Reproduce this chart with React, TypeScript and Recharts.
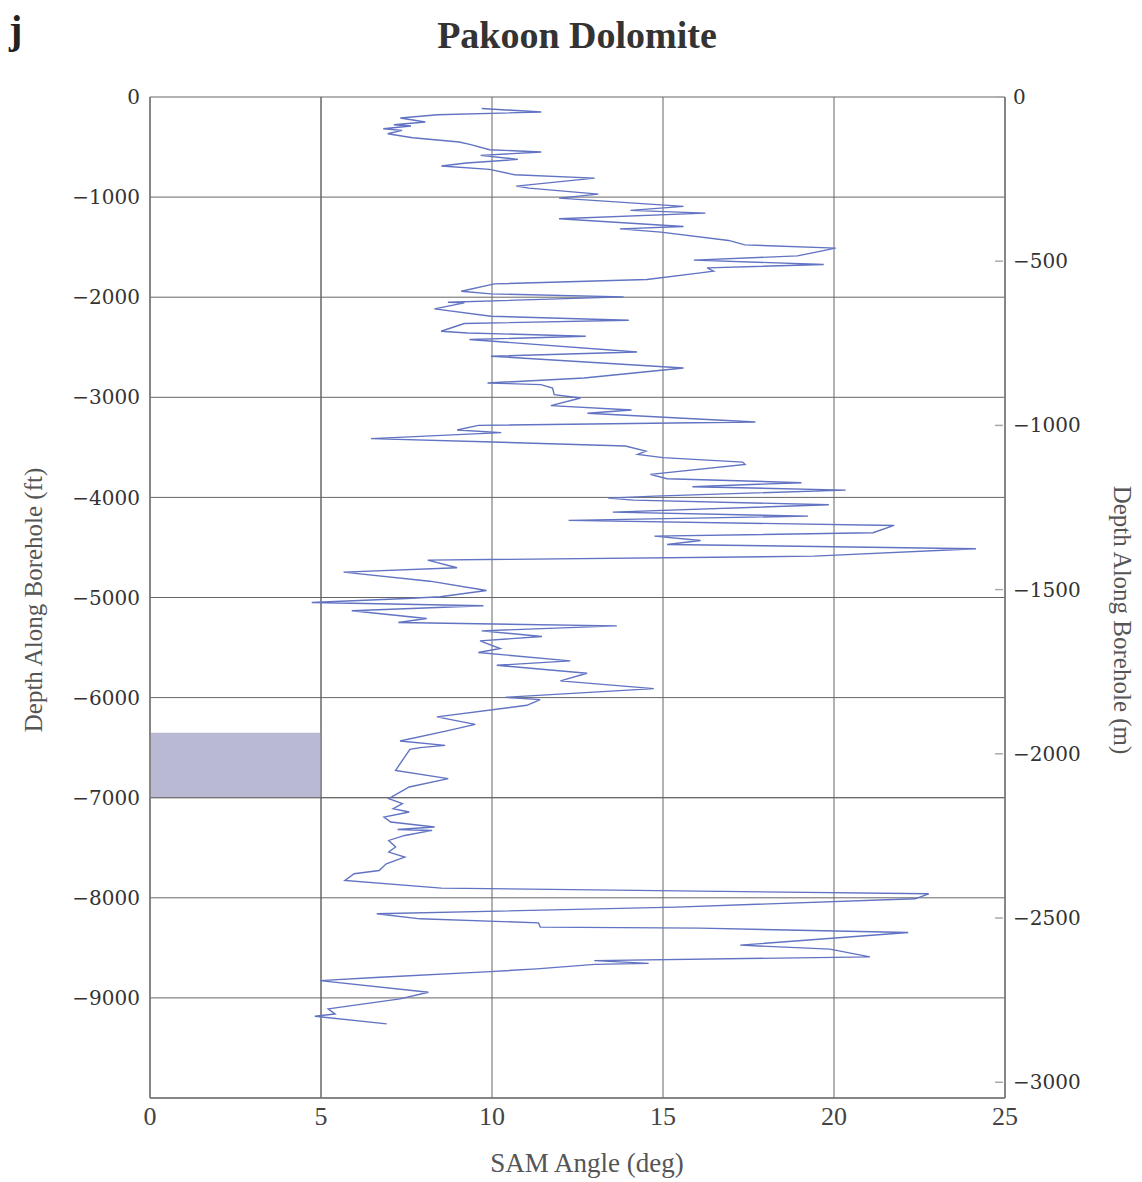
import React from 'react';
import { ScatterChart, Scatter, XAxis, YAxis, CartesianGrid, ReferenceArea, ReferenceLine } from 'recharts';

// SAM angle (deg), top of hole to bottom
const samAngle = [
  9.7, 11.44, 8.41, 7.32, 8.05, 7.13, 7.63, 6.82, 7.37, 6.95, 7.68, 9.04, 9.35, 9.93, 11.44, 9.67, 10.76, 9.25, 8.52, 9.93,
  10.66, 13.0, 10.71, 11.08, 13.11, 11.96, 15.6, 14.05, 16.24, 11.96, 15.6, 13.74, 14.94, 16.92, 17.39, 20.05,
  18.93, 15.9, 19.7, 16.29, 16.48, 16.09, 14.53, 10.07, 9.1, 9.97, 13.85, 8.71, 9.19, 8.32, 9.97, 14.0, 9.19, 8.51, 9.29,
  12.74, 9.34, 14.24, 9.97, 15.6, 12.69, 9.87, 11.43, 11.77, 11.82, 12.59, 11.72, 14.08, 12.79, 17.7, 9.6, 8.98, 10.27,
  6.46, 10.02, 13.9, 14.5, 14.26, 15.0, 17.33, 17.4, 14.63, 15.12, 19.05, 15.86, 20.34, 14.75, 13.4, 14.14, 19.85, 13.53,
  19.24, 12.24, 21.76, 21.14, 14.75, 16.1, 15.12, 24.15, 19.42, 8.12, 8.98, 5.66, 8.18, 9.84, 8.49,
  7.5, 4.73, 9.75, 5.9, 8.09, 7.26, 13.65, 9.7, 11.46, 9.65, 10.24, 9.6, 12.29, 10.14, 12.78, 12.0, 14.73, 10.4, 11.41,
  11.02, 8.39, 9.51, 8.68, 7.31, 8.63, 7.9, 7.6, 7.18, 8.72, 7.58, 6.98, 7.38, 7.11, 7.58, 6.84, 7.04, 8.32, 7.24, 8.25,
  7.45, 6.98, 7.18, 6.98, 7.45, 6.91, 6.7, 5.97, 5.7, 8.52, 22.77, 22.37, 15.38, 6.63, 7.9, 11.36, 11.41, 16.09, 22.17,
  17.26, 19.88, 21.05, 12.99, 14.58, 13.0, 11.31, 9.95, 6.73, 4.97, 8.14, 7.31, 5.21, 5.41, 4.82, 6.92,
];

// depth along borehole (ft) for each angle above
const depthFt = [
  -115, -150, -177, -210, -250, -277, -290, -317, -333, -367, -407, -450, -473, -527, -550, -583, -623, -660, -690, -723,
  -777, -810, -890, -910, -970, -1010, -1093, -1133, -1160, -1217, -1293, -1317, -1350, -1433, -1477, -1510,
  -1587, -1630, -1673, -1707, -1740, -1757, -1823, -1867, -1940, -1967, -1997, -2050, -2057, -2117, -2190, -2230, -2263, -2340, -2357,
  -2390, -2423, -2547, -2590, -2707, -2807, -2857, -2873, -2907, -2973, -3007, -3083, -3127, -3160, -3247, -3280, -3327, -3353,
  -3413, -3447, -3487, -3537, -3570, -3603, -3647, -3670, -3770, -3813, -3853, -3893, -3927, -3987, -4007, -4027, -4073, -4147,
  -4187, -4230, -4280, -4353, -4387, -4430, -4470, -4513, -4587, -4627, -4703, -4747, -4837, -4930, -4993,
  -5010, -5050, -5083, -5133, -5210, -5250, -5283, -5333, -5390, -5433, -5510, -5550, -5633, -5677, -5757, -5833, -5910, -5997, -6020,
  -6077, -6193, -6267, -6333, -6433, -6477, -6500, -6517, -6727, -6810, -6893, -7010, -7060, -7110, -7143, -7193, -7243, -7293, -7317, -7327,
  -7377, -7427, -7493, -7543, -7593, -7660, -7727, -7760, -7827, -7903, -7960, -8010, -8093, -8160, -8210, -8250, -8293, -8303, -8347,
  -8473, -8513, -8590, -8628, -8655, -8665, -8710, -8737, -8793, -8827, -8943, -9010, -9110, -9160, -9183, -9260,
];

const angleTicks = [0, 5, 10, 15, 20, 25];
const ftTicks = [0, -1000, -2000, -3000, -4000, -5000, -6000, -7000, -8000, -9000];
const mTicks = [0, -500, -1000, -1500, -2000, -2500, -3000];

// shaded interval on the left
const shadeAngle = [0, 5];
const shadeDepth = [-7000, -6350];

const trace = samAngle.map((a, i) => ({ angle: a, depth: depthFt[i] }));

const fmt = (v: number) => (v < 0 ? '\u2212' + Math.abs(v) : String(v));

const serif = '"Liberation Serif", "Times New Roman", serif';
const wideSerif = '"DejaVu Serif", serif';

const RightTick = (props: any) => {
  const { x, y, payload } = props;
  return (
    <g>
      <line x1={x - 18} x2={x - 10} y1={y} y2={y} stroke="#aaa" strokeWidth={1.5} />
      <text x={x} y={y} dy="0.35em" textAnchor="start" fill="#333" fontSize={20} fontFamily={wideSerif}>
        {fmt(payload.value)}
      </text>
    </g>
  );
};

export default function App() {
  return (
    <div style={{ position: 'absolute', left: 0, top: 0, width: 1142, height: 1182, background: '#fff' }}>
      <ScatterChart width={1142} height={1182} margin={{ top: 97, right: 77, bottom: 54, left: 90 }}>
        <CartesianGrid yAxisId="ft" stroke="#666" strokeWidth={1} />
        <XAxis
          type="number"
          dataKey="angle"
          domain={[0, 25]}
          ticks={angleTicks}
          height={30}
          tickLine={false}
          tickSize={0}
          tickMargin={9}
          axisLine={{ stroke: '#777', strokeWidth: 1.5 }}
          tick={{ fill: '#444', fontSize: 26, fontFamily: serif }}
          allowDataOverflow
        />
        <YAxis
          yAxisId="ft"
          type="number"
          dataKey="depth"
          domain={[-10000, 0]}
          ticks={ftTicks}
          width={60}
          tickLine={false}
          tickSize={0}
          tickMargin={10}
          axisLine={{ stroke: '#777', strokeWidth: 1.5 }}
          tickFormatter={fmt}
          tick={{ fill: '#333', fontSize: 20, fontFamily: wideSerif }}
          interval={0}
          allowDataOverflow
        />
        <YAxis
          yAxisId="m"
          orientation="right"
          type="number"
          domain={[-3048, 0]}
          ticks={mTicks}
          width={60}
          tickLine={false}
          tickSize={0}
          tickMargin={8}
          axisLine={{ stroke: '#777', strokeWidth: 1.5 }}
          tick={<RightTick />}
          interval={0}
          allowDataOverflow
        />
        <ReferenceArea
          yAxisId="ft"
          x1={shadeAngle[0]}
          x2={shadeAngle[1]}
          y1={shadeDepth[0]}
          y2={shadeDepth[1]}
          fill="#b9b9d3"
          fillOpacity={1}
          stroke="none"
        />
        <ReferenceLine yAxisId="ft" y={shadeDepth[0]} stroke="#666" />
        <ReferenceLine yAxisId="ft" x={shadeAngle[1]} stroke="#666" />
        <Scatter
          yAxisId="ft"
          data={trace}
          line={{ stroke: '#6173c2', strokeWidth: 1.4 }}
          lineJointType="linear"
          shape={() => <g />}
          isAnimationActive={false}
        />
      </ScatterChart>
      <svg width={1142} height={1182} style={{ position: 'absolute', left: 0, top: 0, pointerEvents: 'none' }}>
        <text x={9} y={43} fontSize={40} fontWeight="bold" fontFamily={serif} fill="#222">j</text>
        <text x={577} y={48} textAnchor="middle" fontSize={38} fontWeight="bold" fontFamily={serif} fill="#333">
          Pakoon Dolomite
        </text>
        <text x={587} y={1172} textAnchor="middle" fontSize={27} fontFamily={serif} fill="#555">
          SAM Angle (deg)
        </text>
        <text
          transform="translate(42,600) rotate(-90)"
          textAnchor="middle"
          fontSize={25}
          fontFamily={serif}
          fill="#555"
        >
          Depth Along Borehole (ft)
        </text>
        <text
          transform="translate(1114,620) rotate(90)"
          textAnchor="middle"
          fontSize={25}
          fontFamily={serif}
          fill="#555"
        >
          Depth Along Borehole (m)
        </text>
      </svg>
    </div>
  );
}
